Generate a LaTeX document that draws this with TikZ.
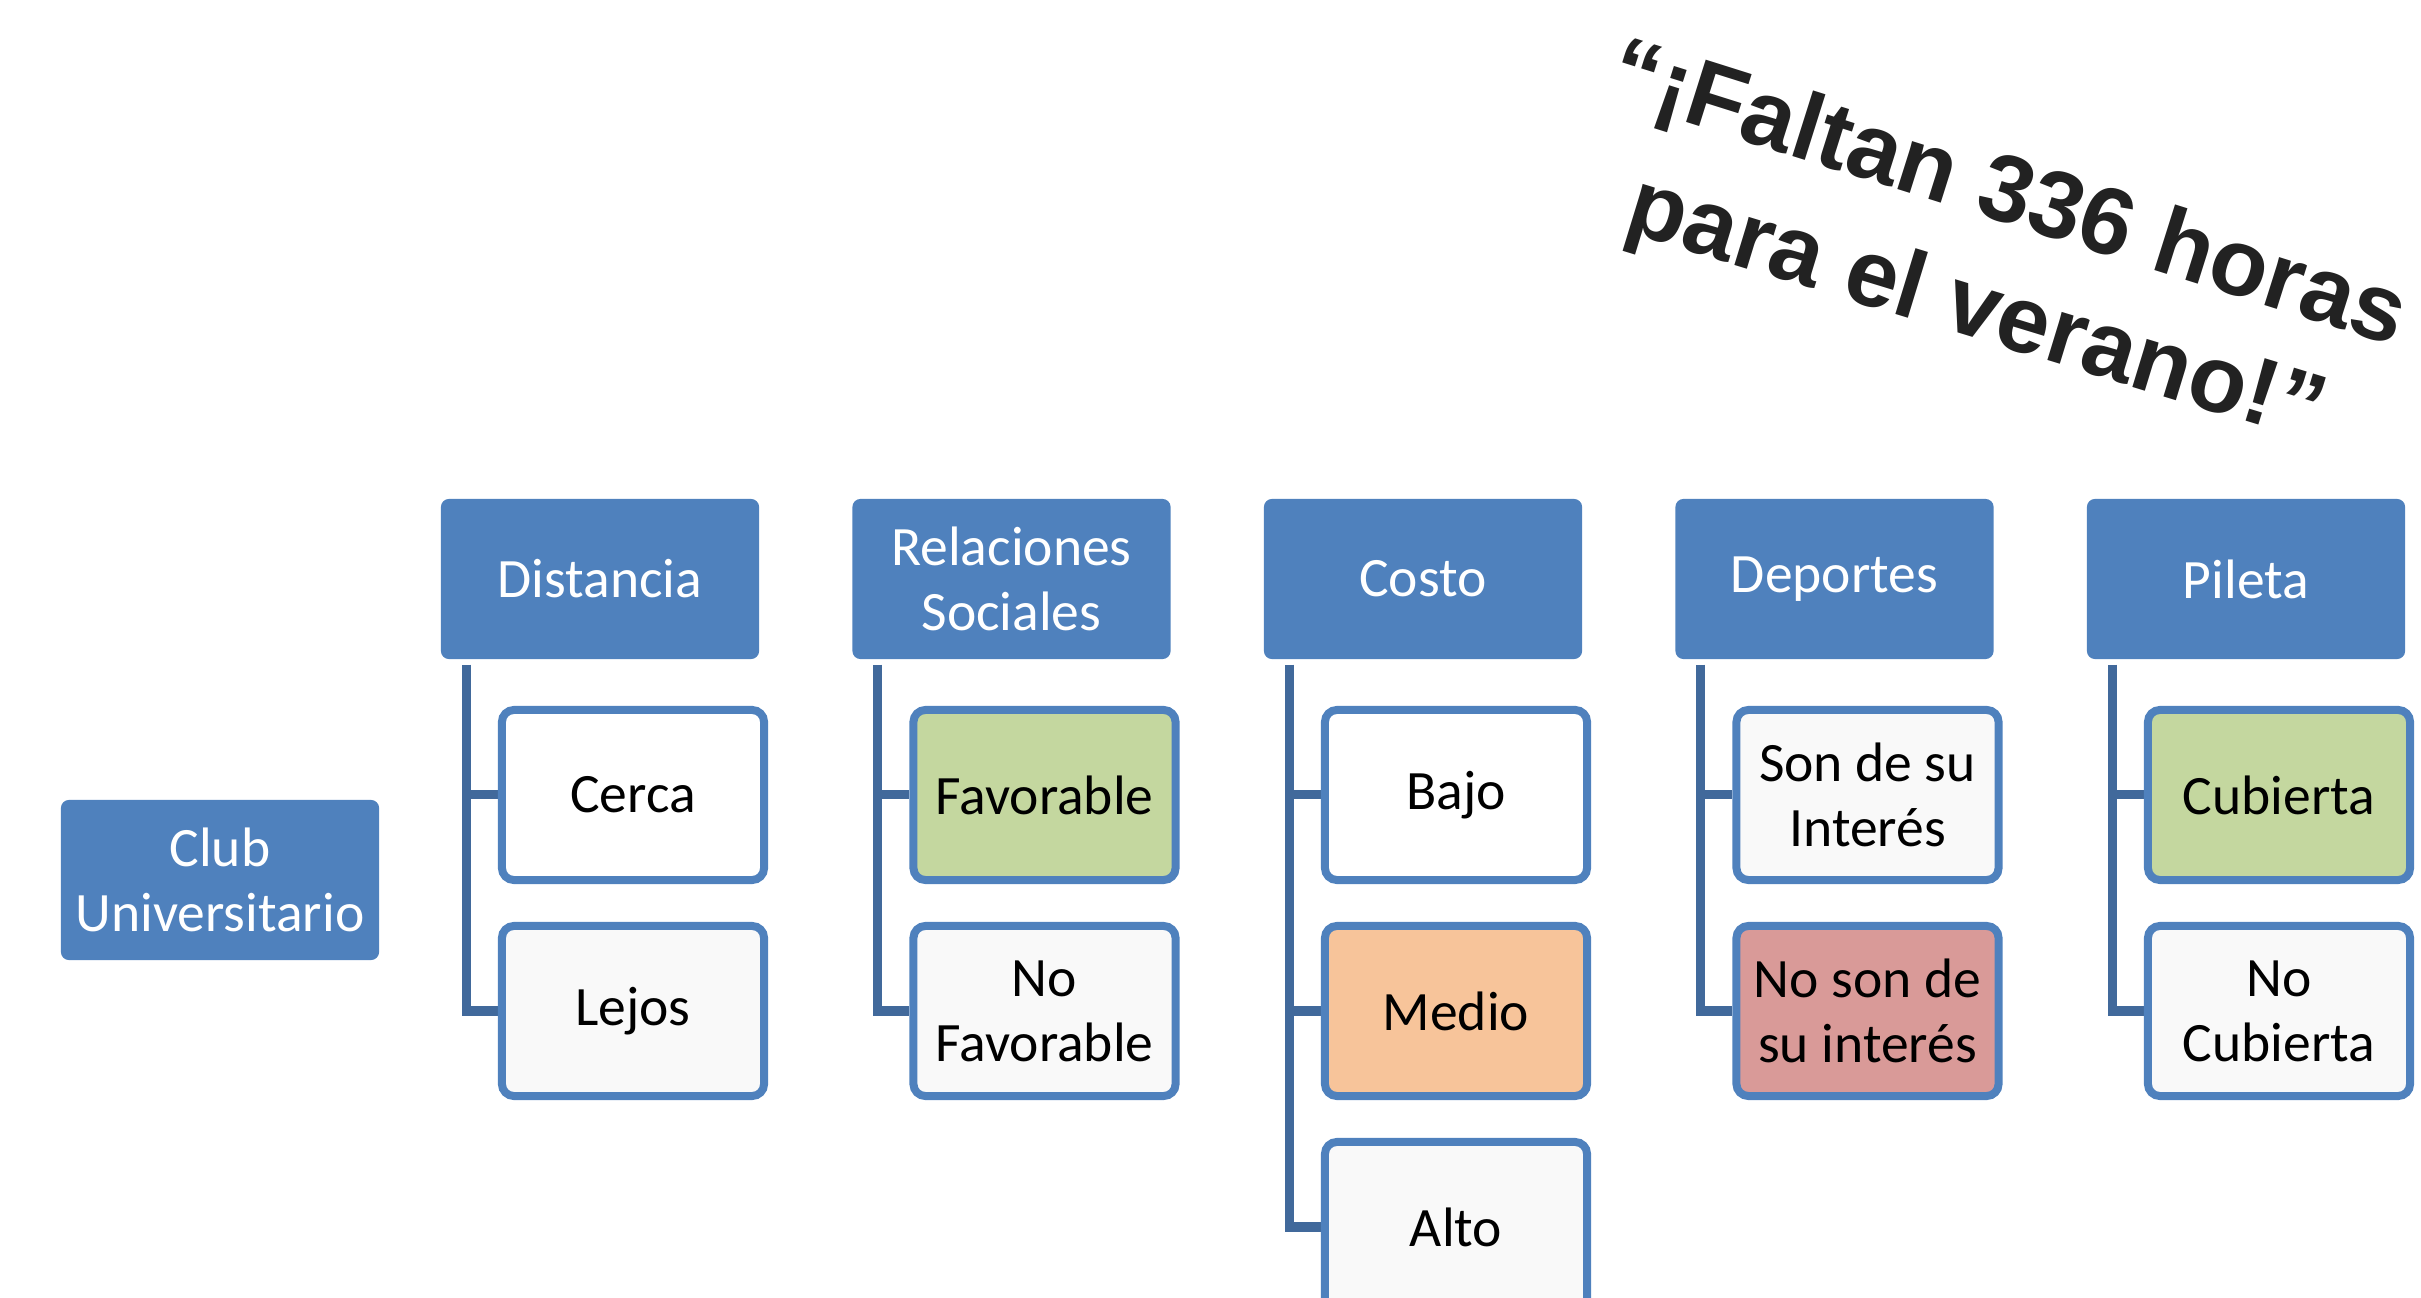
\documentclass[tikz,border=0pt]{standalone}
\usepackage{fontspec}
\setmainfont{Carlito}
\newfontfamily\quotefont{Liberation Sans}
\usetikzlibrary{backgrounds,calc}
\definecolor{hdrblue}{HTML}{4F81BD}
\definecolor{connblue}{HTML}{41699B}
\definecolor{favgreen}{HTML}{C4D79F}
\definecolor{medorange}{HTML}{F7C49A}
\definecolor{badred}{HTML}{D99A98}
\definecolor{quotegray}{HTML}{222222}
\definecolor{offwhite}{HTML}{F9F9F9}
\begin{document}
\begin{tikzpicture}[x=0.01cm,y=-0.01cm,
  boxfont/.style={font=\fontsize{15.8}{18.5}\selectfont},
  hdr/.style={boxfont, fill=hdrblue, rounded corners=0.08cm, minimum width=3.18cm, minimum height=1.60cm, text=white, align=center, inner sep=0pt},
  child/.style={boxfont, draw=hdrblue, line width=0.08cm, fill=white, rounded corners=0.12cm, minimum width=2.62cm, minimum height=1.70cm, text=black, align=center, inner sep=0pt},
  conn/.style={draw=connblue, line width=0.09cm, line join=miter},
  quoteline/.style={inner sep=0pt, text=quotegray, font=\quotefont\bfseries\fontsize{27}{35}\selectfont}
]
\useasboundingbox (0,0) rectangle (2421,1298);
\clip (0,0) rectangle (2421,1298);

% root
\node[hdr] (club) at (220,880) {Club\\Universitario};

% headers
\node[hdr] (h1) at (600,579) {Distancia};
\node[hdr] (h2) at (1011.5,579) {Relaciones\\Sociales};
\node[hdr] (h3) at (1423,579) {Costo};
\node[hdr] (h4) at (1834.5,579) {Deportes};
\node[hdr] (h5) at (2246,579) {Pileta};

% children
\node[child] (c11) at (633,795) {Cerca};
\node[child, fill=offwhite] (c12) at (633,1011) {Lejos};
\node[child, fill=favgreen] (c21) at (1044.5,795) {Favorable};
\node[child, fill=offwhite] (c22) at (1044.5,1011) {No\\Favorable};
\node[child] (c31) at (1456,795) {Bajo};
\node[child, fill=medorange] (c32) at (1456,1011) {Medio};
\node[child, fill=offwhite] (c33) at (1456,1227) {Alto};
\node[child, fill=offwhite] (c41) at (1867.5,795) {Son de su\\Interés};
\node[child, fill=badred] (c42) at (1867.5,1011) {No son de\\su interés};
\node[child, fill=favgreen] (c51) at (2279,795) {Cubierta};
\node[child, fill=offwhite] (c52) at (2279,1011) {No\\Cubierta};

% connector tops
\coordinate (t1) at ($(h1.south west)+(26,5)$);
\coordinate (t2) at ($(h2.south west)+(26,5)$);
\coordinate (t3) at ($(h3.south west)+(26,5)$);
\coordinate (t4) at ($(h4.south west)+(26,5)$);
\coordinate (t5) at ($(h5.south west)+(26,5)$);

\begin{scope}[on background layer]
  \draw[conn] (t1) |- (c12.west);
  \draw[conn] (t1 |- c11.west) -- (c11.west);
  \draw[conn] (t2) |- (c22.west);
  \draw[conn] (t2 |- c21.west) -- (c21.west);
  \draw[conn] (t3) |- (c33.west);
  \draw[conn] (t3 |- c31.west) -- (c31.west);
  \draw[conn] (t3 |- c32.west) -- (c32.west);
  \draw[conn] (t4) |- (c42.west);
  \draw[conn] (t4 |- c41.west) -- (c41.west);
  \draw[conn] (t5) |- (c52.west);
  \draw[conn] (t5 |- c51.west) -- (c51.west);
\end{scope}

% quote
\node[quoteline, rotate=-17.5] (quote1) at (2008,196) {“¡Faltan 336 horas};
\node[quoteline, rotate=-17] (quote2) at (1975,313) {para el verano!”};
\end{tikzpicture}
\end{document}
